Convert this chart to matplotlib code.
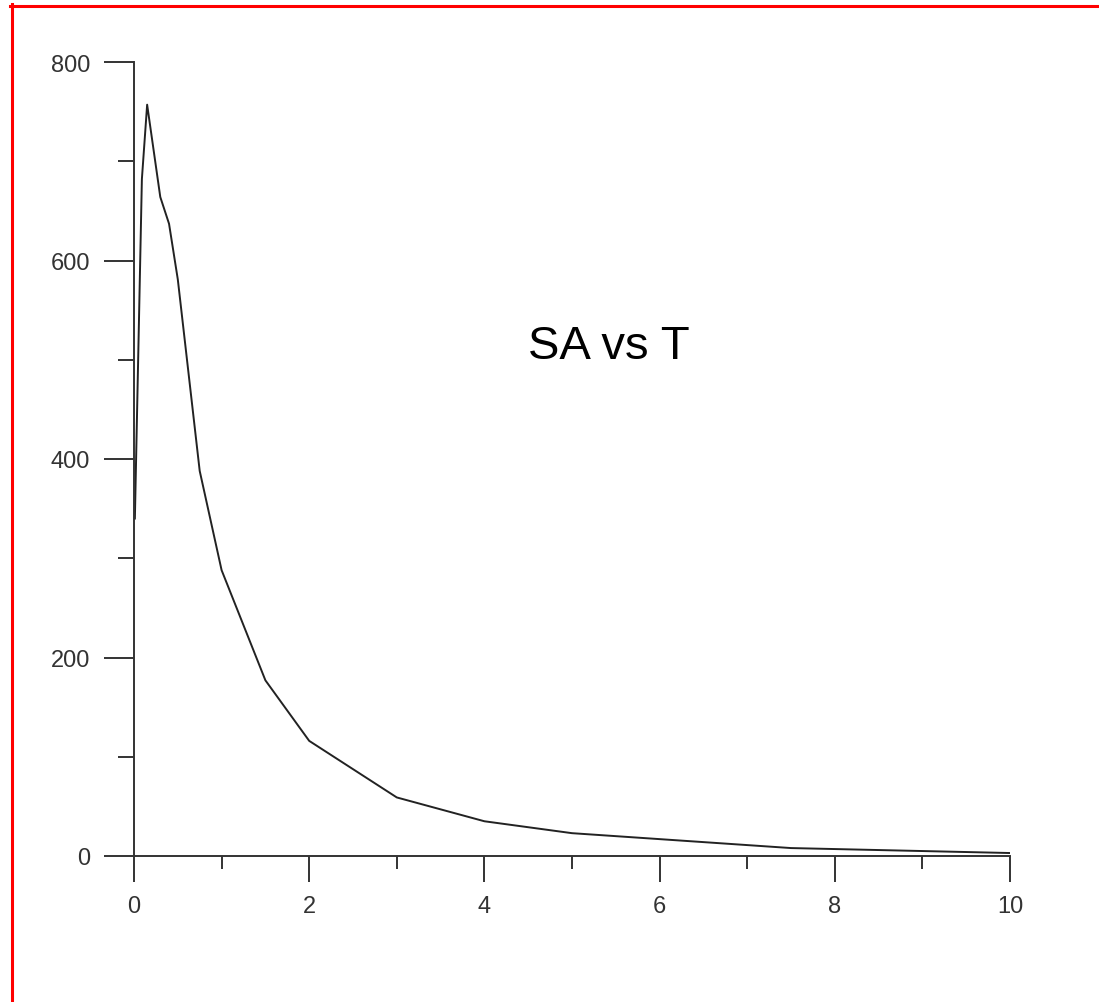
import matplotlib
matplotlib.use('Agg')
import matplotlib.pyplot as plt
from matplotlib.lines import Line2D
from matplotlib.ticker import MultipleLocator

# period T (s) and spectral acceleration SA
T = [0.01, 0.09, 0.15, 0.3, 0.4, 0.5, 0.75, 1.0, 1.5, 2.0, 3.0, 4.0, 5.0, 6.0, 7.5, 10.0]
SA = [340, 682, 757, 664, 637, 581, 388, 288, 177, 116, 59, 35, 23, 17, 8, 3]

x_ticks = [0, 2, 4, 6, 8, 10]
y_ticks = [0, 200, 400, 600, 800]
title = "SA vs T"

plt.rcParams['font.family'] = ['Liberation Sans', 'DejaVu Sans']

W, H = 1099, 1003
fig = plt.figure(figsize=(W / 100, H / 100), dpi=100)
ax = fig.add_axes([134 / W, (H - 857) / H, 876 / W, 794 / H])

ax.plot(T, SA, color='#222222', lw=1.4)
ax.set_xlim(0, 10)
ax.set_ylim(0, 800)

for s in ['top', 'right']:
    ax.spines[s].set_visible(False)
for s in ['left', 'bottom']:
    ax.spines[s].set_color('#333333')
    ax.spines[s].set_linewidth(1.4)

ax.set_xticks(x_ticks)
ax.set_yticks(y_ticks)
ax.xaxis.set_minor_locator(MultipleLocator(1))
ax.yaxis.set_minor_locator(MultipleLocator(100))
ax.tick_params(axis='x', which='major', length=19, width=1.4, color='#333333',
               labelsize=17, labelcolor='#333333', pad=9)
ax.tick_params(axis='x', which='minor', length=9.5, width=1.4, color='#333333')
ax.tick_params(axis='y', which='major', length=21.5, width=1.4, color='#333333',
               labelsize=17, labelcolor='#333333', pad=10)
ax.tick_params(axis='y', which='minor', length=11.5, width=1.4, color='#333333')

ax.text(5.42, 514, title, fontsize=34, ha='center', va='center', color='black')

# red frame on the left and top edges
fig.add_artist(Line2D([11.5 / W, 11.5 / W], [0, (H - 5) / H], color='red', lw=2.2,
                      transform=fig.transFigure))
fig.add_artist(Line2D([10 / W, 1], [(H - 6.5) / H, (H - 6.5) / H], color='red', lw=2.2,
                      transform=fig.transFigure))

fig.savefig('out.png', dpi=100, facecolor='white')
